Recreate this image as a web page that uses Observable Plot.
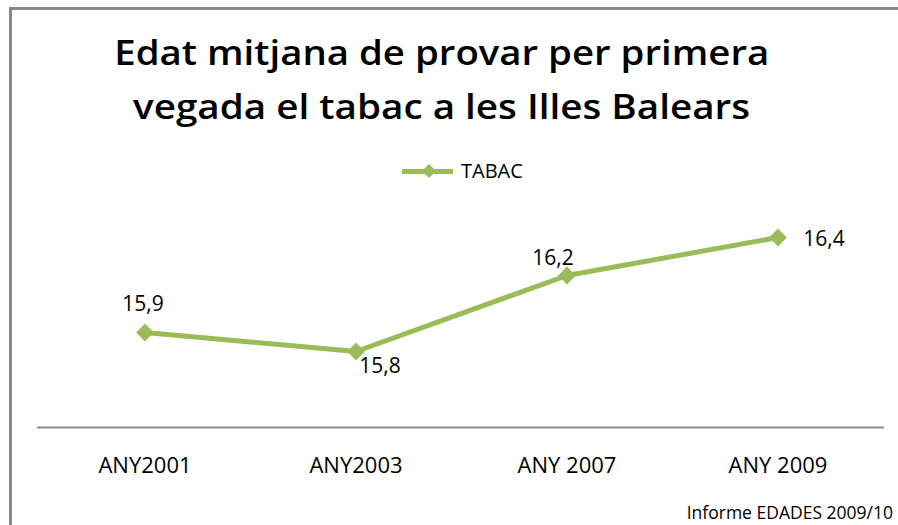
<!DOCTYPE html>
<html><head><meta charset="utf-8">
<script src="https://cdn.jsdelivr.net/npm/d3@7"></script>
<script src="https://cdn.jsdelivr.net/npm/@observablehq/plot@0.6"></script>
<style>
body{margin:0;background:#fff;}
#wrap{position:relative;width:898px;height:525px;overflow:hidden;background:#fff;font-family:"Open Sans",sans-serif;color:#000;}
.bt{position:absolute;left:9px;top:7px;width:889px;height:3px;background:#888;}
.bl{position:absolute;left:9px;top:7px;width:3px;height:518px;background:#888;}
.title{position:absolute;left:0;width:884px;text-align:center;font-weight:600;font-size:35px;line-height:35px;white-space:nowrap;}
.title span{display:inline-block;transform-origin:center;}
#chart{position:absolute;left:0;top:140px;}
.legline{position:absolute;left:402px;top:169px;width:51px;height:5px;background:#9BBB59;}
.legdia{position:absolute;left:424px;top:166px;width:10px;height:10px;background:#9BBB59;transform:rotate(45deg);}
.legtxt{position:absolute;left:461px;top:161px;font-size:20px;line-height:20px;}
.caption{position:absolute;right:5px;top:504px;font-size:17.5px;line-height:17.5px;white-space:nowrap;}
</style></head>
<body>
<div id="wrap">
  <div class="bt"></div><div class="bl"></div>
  <div class="title" style="top:34px"><span id="t1">Edat mitjana de provar per primera</span></div>
  <div class="title" style="top:88px"><span id="t2">vegada el tabac a les Illes Balears</span></div>
  <div class="legline"></div><div class="legdia"></div>
  <div class="legtxt">TABAC</div>
  <div id="chart"></div>
  <div class="caption">Informe EDADES 2009/10</div>
</div>
<script>
const years = ["ANY2001", "ANY2003", "ANY 2007", "ANY 2009"];
const values = [15.9, 15.8, 16.2, 16.4];
const seriesName = "TABAC";

const data = years.map((year, i) => ({year, value: values[i], label: String(values[i]).replace(".", ",")}));
const green = "#9BBB59";

function lbl(i, dx, dy) {
  return Plot.text(data, {filter: d => d.year === years[i], x: "year", y: "value", text: "label",
    dx, dy, fontSize: 21, fill: "#000", textAnchor: "middle", lineAnchor: "middle"});
}

const chart = Plot.plot({
  width: 898, height: 385,
  marginLeft: 37, marginRight: 14, marginTop: 59, marginBottom: 98,
  x: {type: "band", domain: years, padding: 0, label: null},
  y: {domain: [15.4, 16.6], axis: null},
  style: {fontFamily: "Open Sans", fontSize: "21px", background: "transparent", overflow: "visible", color: "#000"},
  marks: [
    Plot.ruleY([15.4], {stroke: "#888", strokeWidth: 2}),
    Plot.axisX({tickSize: 0, tickPadding: 30, fontSize: 22, label: null}),
    Plot.line(data, {x: "year", y: "value", stroke: green, strokeWidth: 5}),
    Plot.dot(data, {x: "year", y: "value", symbol: "diamond2", r: 8, fill: green, stroke: "none"}),
    lbl(0, -2, -28),
    lbl(1, 24, 15),
    lbl(2, -14, -17),
    lbl(3, 46, 2)
  ]
});
document.getElementById("chart").appendChild(chart);

function fit(id, target) {
  const el = document.getElementById(id);
  const w = el.getBoundingClientRect().width;
  if (w > 0) el.style.transform = `scaleX(${target / w})`;
}
fit("t1", 655);
fit("t2", 617);
</script>
</body></html>
